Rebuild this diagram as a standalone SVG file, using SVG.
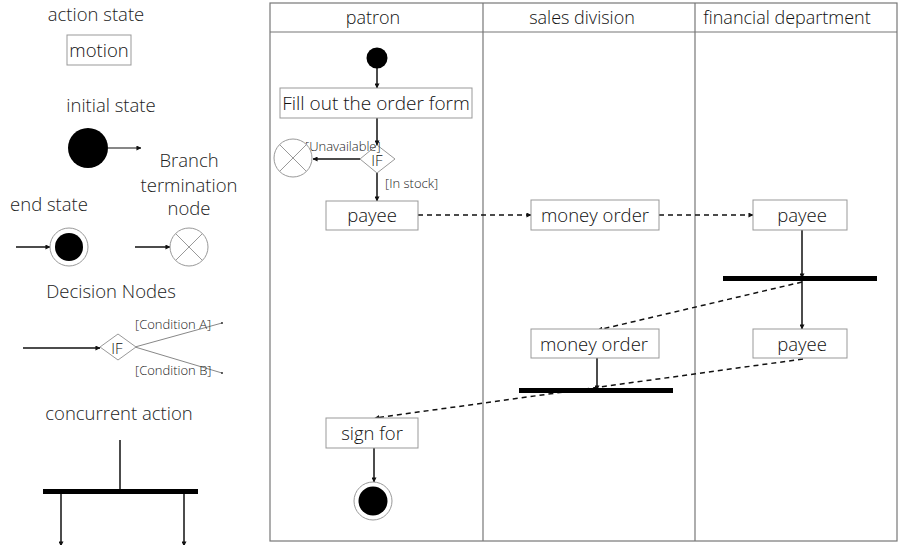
<svg xmlns="http://www.w3.org/2000/svg" width="898" height="545" viewBox="0 0 898 545">
  <defs>
    <marker id="arr" viewBox="0 0 6 6" refX="5.5" refY="3" markerWidth="5" markerHeight="5" markerUnits="userSpaceOnUse" orient="auto">
      <path d="M0,0 L6,3 L0,6 z" fill="#111"/>
    </marker>
    <style>
      text { font-family: "Open Sans", "Noto Sans", "Liberation Sans", sans-serif; font-weight: 300; fill: #111; }
      .lbl { font-size: 18.5px; fill: #222; text-anchor: middle; }
      .act { fill: #fff; stroke: #999; stroke-width: 1; }
      .atx { font-size: 18.5px; text-anchor: middle; }
      .grd { font-size: 13px; fill: #222; }
      .flow { stroke: #111; stroke-width: 1.5; fill: none; marker-end: url(#arr); }
      .dash { stroke: #111; stroke-width: 1.5; fill: none; stroke-dasharray: 5 4; marker-end: url(#arr); }
      .bar { fill: #000; }
      .lane { stroke: #777; stroke-width: 1.2; fill: none; }
      .thin { stroke: #999; stroke-width: 1; fill: #fff; }
      .hdr { font-size: 18px; fill: #111; text-anchor: middle; }
    </style>
  </defs>

  <rect width="898" height="545" fill="#fff"/>

  <!-- Legend -->
  <g id="legend">
    <g id="legend-action">
      <text class="lbl" x="96" y="21">action state</text>
      <rect class="act" x="67" y="35" width="64" height="30"/>
      <text class="atx" x="99" y="57">motion</text>
    </g>
    <g id="legend-initial">
      <text class="lbl" x="111" y="112">initial state</text>
      <circle cx="88" cy="148" r="20" fill="#000"/>
      <line class="flow" x1="107" y1="148" x2="141" y2="148" style="stroke-width:1.2"/>
    </g>
    <g id="legend-end">
      <text class="lbl" x="49" y="211">end state</text>
      <line class="flow" x1="16" y1="247" x2="50" y2="247"/>
      <circle class="thin" cx="69" cy="247" r="19"/>
      <circle cx="69" cy="247" r="14" fill="#000"/>
    </g>
    <g id="legend-termination">
      <text class="lbl" x="189" y="167">Branch</text>
      <text class="lbl" x="189" y="192">termination</text>
      <text class="lbl" x="189" y="215">node</text>
      <line class="flow" x1="135" y1="247" x2="170" y2="247"/>
      <circle class="thin" cx="189" cy="247" r="19"/>
      <path d="M175.6,233.6 L202.4,260.4 M202.4,233.6 L175.6,260.4" stroke="#999" stroke-width="1"/>
    </g>
    <g id="legend-decision">
      <text class="lbl" x="111" y="298">Decision Nodes</text>
      <line class="flow" x1="23" y1="348" x2="100" y2="348"/>
      <line x1="135" y1="347" x2="222" y2="323" stroke="#888" stroke-width="1"/>
      <line x1="135" y1="347" x2="222" y2="373" stroke="#888" stroke-width="1"/>
      <circle cx="222" cy="323" r="1" fill="#333"/>
      <circle cx="222" cy="373" r="1" fill="#333"/>
      <polygon class="thin" points="100,347 118,334 136,347 118,360"/>
      <text class="atx" x="117" y="354" style="font-size:15px">IF</text>
      <text class="grd" x="135" y="329">[Condition A]</text>
      <text class="grd" x="135" y="375">[Condition B]</text>
    </g>
    <g id="legend-concurrent">
      <text class="lbl" x="119" y="420">concurrent action</text>
      <line x1="120" y1="440" x2="120" y2="490" stroke="#111" stroke-width="1.5"/>
      <rect class="bar" x="43" y="489" width="155" height="5"/>
      <line class="flow" x1="61" y1="494" x2="61" y2="546"/>
      <line class="flow" x1="184" y1="494" x2="184" y2="546"/>
    </g>
  </g>

  <!-- Swimlanes -->
  <g id="lanes">
    <rect class="lane" x="270" y="3" width="627" height="538"/>
    <line class="lane" x1="270" y1="32" x2="897" y2="32"/>
    <line class="lane" x1="483" y1="3" x2="483" y2="541"/>
    <line class="lane" x1="695" y1="3" x2="695" y2="541"/>
    <text class="hdr" x="373" y="24">patron</text>
    <text class="hdr" x="582" y="24">sales division</text>
    <text class="hdr" x="787" y="24">financial department</text>
  </g>

  <!-- Connectors -->
  <g id="connectors">
    <line class="flow" x1="377" y1="66" x2="377" y2="88"/>
    <line class="flow" x1="377" y1="118" x2="377" y2="145"/>
    <line class="flow" x1="360" y1="159" x2="313" y2="159"/>
    <line class="flow" x1="377" y1="173" x2="377" y2="201"/>
    <line class="dash" x1="418" y1="215" x2="531" y2="215"/>
    <line class="dash" x1="659" y1="215" x2="753" y2="215"/>
    <line class="flow" x1="802" y1="230" x2="802" y2="278"/>
    <line class="flow" x1="802" y1="281" x2="802" y2="329"/>
    <line class="dash" x1="802" y1="282" x2="598" y2="330"/>
    <line class="flow" x1="597" y1="358" x2="597" y2="390"/>
    <line class="dash" x1="803" y1="359" x2="375" y2="418"/>
    <line class="flow" x1="374" y1="448" x2="374" y2="482"/>
  </g>

  <!-- Nodes -->
  <g id="start">
    <circle cx="377" cy="58" r="10.5" fill="#000"/>
  </g>
  <g id="fill-order">
    <rect class="act" x="280" y="88" width="192" height="30"/>
    <text class="atx" x="376" y="110" style="font-size:19px">Fill out the order form</text>
  </g>
  <g id="decision">
    <polygon class="thin" points="360,159 377,145 395,159 377,173"/>
    <text class="atx" x="377" y="166" style="font-size:15px">IF</text>
    <text class="grd" x="305" y="151">[Unavailable]</text>
    <text class="grd" x="385" y="188">[In stock]</text>
  </g>
  <g id="terminate">
    <circle class="thin" cx="293" cy="158" r="19"/>
    <path d="M279.6,144.6 L306.4,171.4 M306.4,144.6 L279.6,171.4" stroke="#999" stroke-width="1"/>
  </g>
  <g id="patron-payee">
    <rect class="act" x="326" y="201" width="92" height="29"/>
    <text class="atx" x="372" y="222">payee</text>
  </g>
  <g id="sales-money-order-1">
    <rect class="act" x="531" y="200" width="128" height="30"/>
    <text class="atx" x="595" y="222">money order</text>
  </g>
  <g id="finance-payee-1">
    <rect class="act" x="753" y="200" width="94" height="30"/>
    <text class="atx" x="802" y="222">payee</text>
  </g>
  <g id="finance-fork">
    <rect class="bar" x="723" y="276" width="154" height="5"/>
  </g>
  <g id="sales-money-order-2">
    <rect class="act" x="531" y="329" width="128" height="29"/>
    <text class="atx" x="594" y="351">money order</text>
  </g>
  <g id="finance-payee-2">
    <rect class="act" x="753" y="329" width="94" height="29"/>
    <text class="atx" x="802" y="351">payee</text>
  </g>
  <g id="sales-join">
    <rect class="bar" x="519" y="388" width="154" height="5"/>
  </g>
  <g id="sign-for">
    <rect class="act" x="326" y="418" width="92" height="30"/>
    <text class="atx" x="372" y="440">sign for</text>
  </g>
  <g id="end">
    <circle class="thin" cx="373" cy="501" r="19"/>
    <circle cx="373" cy="501" r="14.5" fill="#000"/>
  </g>
</svg>
